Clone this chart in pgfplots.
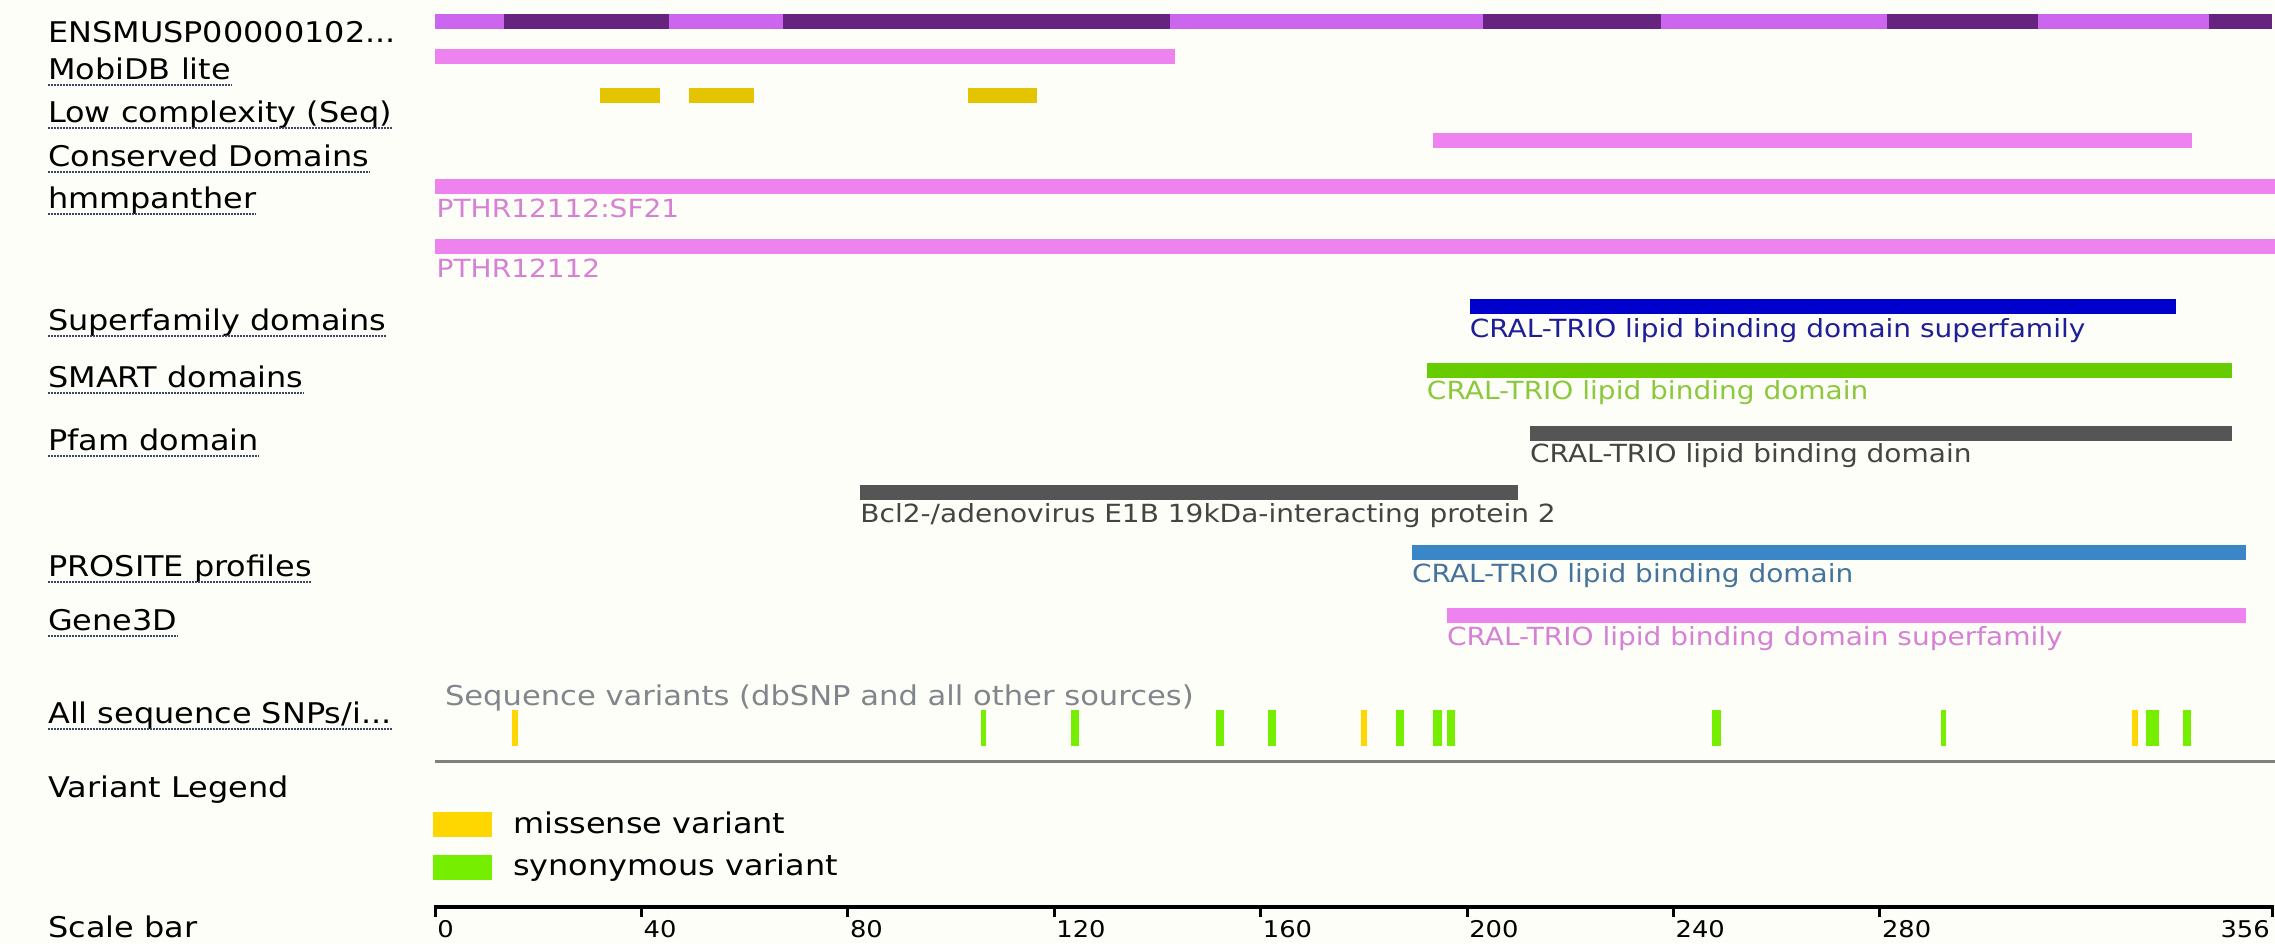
\documentclass[border=0pt]{standalone}
\usepackage{pgfplots}
\pgfplotsset{compat=1.18}
\usepackage{fontspec}
\setmainfont{DejaVu Sans}[FakeStretch=1.12]

\definecolor{bg}{RGB}{254,254,248}
\definecolor{exonA}{RGB}{204,102,238}
\definecolor{exonB}{RGB}{102,36,128}
\definecolor{vio}{RGB}{238,130,238}
\definecolor{vioText}{RGB}{214,128,214}
\definecolor{lowc}{RGB}{228,196,0}
\definecolor{sfam}{RGB}{0,0,204}
\definecolor{sfamText}{RGB}{30,30,150}
\definecolor{smart}{RGB}{102,204,0}
\definecolor{smartText}{RGB}{140,200,60}
\definecolor{pfam}{RGB}{85,85,85}
\definecolor{pfamText}{RGB}{68,68,68}
\definecolor{prosite}{RGB}{58,135,200}
\definecolor{prositeText}{RGB}{70,115,155}
\definecolor{missense}{RGB}{255,215,0}
\definecolor{synon}{RGB}{118,238,0}
\definecolor{seqText}{RGB}{128,134,140}
\definecolor{uline}{RGB}{60,70,100}
\definecolor{rule}{RGB}{128,128,128}

\newcommand{\lab}{\fontsize{28.5}{30}\selectfont}
\newcommand{\dom}{\fontsize{25}{27}\selectfont}
\newcommand{\tickfont}{\fontsize{23}{25}\selectfont}

% track label with dotted underline, y = baseline in pixels
\newcommand{\ulabel}[2]{%
  \node[anchor=base west, inner sep=0pt, font=\lab] (tmp) at (axis cs:-75,#1) {#2};
  \draw[uline, line width=1.6pt, dash pattern=on 1.6pt off 1.4pt]
    ([yshift=-6pt]tmp.base west) -- ([yshift=-6pt]tmp.base east);}
\newcommand{\dlabel}[4]{%
  \node[anchor=base west, inner sep=0pt, font=\dom, text=#3] at (axis cs:#1,#2) {#4};}

\begin{document}
\begin{tikzpicture}
\fill[bg] (0,0) rectangle (2275pt,943pt);
\begin{axis}[
  at={(0,0)}, anchor=south west,
  scale only axis, width=2275pt, height=943pt,
  xmin=-84.30, xmax=356.58, ymin=0, ymax=943, y dir=reverse,
  hide axis, clip=false,
  trk/.style={line width=15pt, unbounded coords=jump},
]
% protein exons
\addplot[exonA, trk] coordinates {(0,21.5) (13.4,21.5) (nan,21.5) (45.3,21.5) (67.4,21.5) (nan,21.5)
  (142.4,21.5) (203.1,21.5) (nan,21.5) (237.6,21.5) (281.4,21.5) (nan,21.5) (310.7,21.5) (343.8,21.5)};
\addplot[exonB, trk] coordinates {(13.4,21.5) (45.3,21.5) (nan,21.5) (67.4,21.5) (142.4,21.5) (nan,21.5)
  (203.1,21.5) (237.6,21.5) (nan,21.5) (281.4,21.5) (310.7,21.5) (nan,21.5) (343.8,21.5) (356,21.5)};
% MobiDB lite
\addplot[vio, trk] coordinates {(0,56) (143.5,56)};
% low complexity
\addplot[lowc, trk] coordinates {(32,95.5) (43.6,95.5) (nan,95.5) (49.2,95.5) (61.8,95.5) (nan,95.5) (103.3,95.5) (116.7,95.5)};
% conserved domains
\addplot[vio, trk] coordinates {(193.4,140.5) (340.5,140.5)};
% hmmpanther
\addplot[vio, trk] coordinates {(0,186.5) (356.5,186.5)};
\addplot[vio, trk] coordinates {(0,246.5) (356.5,246.5)};
% superfamily
\addplot[sfam, trk] coordinates {(200.5,306.5) (337.3,306.5)};
% SMART
\addplot[smart, trk] coordinates {(192.2,370) (348.2,370)};
% Pfam
\addplot[pfam, trk] coordinates {(212.2,433.5) (348.2,433.5)};
\addplot[pfam, trk] coordinates {(82.4,492.5) (209.9,492.5)};
% PROSITE
\addplot[prosite, trk] coordinates {(189.3,552.5) (351.0,552.5)};
% Gene3D
\addplot[vio, trk] coordinates {(196.1,615.5) (351.0,615.5)};

% variants
\addplot[only marks, mark=|, mark size=18, mark options={missense, line width=6pt}]
  coordinates {(15.6,728) (180.1,728) (329.4,728)};
\addplot[only marks, mark=|, mark size=18, mark options={synon, line width=5pt}]
  coordinates {(106.2,728) (292.3,728)};
\addplot[only marks, mark=|, mark size=18, mark options={synon, line width=8.5pt}]
  coordinates {(124.0,728) (152.1,728) (162.2,728) (187.0,728) (194.3,728) (196.9,728) (248.3,728) (339.5,728)};
\addplot[only marks, mark=|, mark size=18, mark options={synon, line width=13pt}]
  coordinates {(332.8,728)};
\addplot[rule, line width=3pt] coordinates {(0,761) (356.5,761)};

% legend swatches
\addplot[missense, line width=25pt] coordinates {(-0.4,824.5) (11.0,824.5)};
\addplot[synon, line width=25pt] coordinates {(-0.4,867.5) (11.0,867.5)};

% scale bar
\addplot[black, line width=3.5pt] coordinates {(0,907) (356,907)};
\addplot[only marks, mark=|, mark size=6, mark options={black, line width=3pt}]
  coordinates {(0,911) (40,911) (80,911) (120,911) (160,911) (200,911) (240,911) (280,911) (356,911)};

% left labels
\node[anchor=base west, inner sep=0pt, font=\lab] at (axis cs:-75,42) {ENSMUSP00000102...};
\ulabel{79}{MobiDB lite}
\ulabel{122}{Low complexity (Seq)}
\ulabel{166}{Conserved Domains}
\ulabel{208}{hmmpanther}
\ulabel{330}{Superfamily domains}
\ulabel{387}{SMART domains}
\ulabel{450}{Pfam domain}
\ulabel{576}{PROSITE profiles}
\ulabel{630}{Gene3D}
\ulabel{723}{All sequence SNPs/i...}
\node[anchor=base west, inner sep=0pt, font=\lab] at (axis cs:-75,797) {Variant Legend};
\node[anchor=base west, inner sep=0pt, font=\lab] at (axis cs:-75,937) {Scale bar};

% feature labels
\dlabel{0.3}{217}{vioText}{PTHR12112:SF21}
\dlabel{0.3}{277}{vioText}{PTHR12112}
\dlabel{200.5}{337}{sfamText}{CRAL-TRIO lipid binding domain superfamily}
\dlabel{192.2}{399}{smartText}{CRAL-TRIO lipid binding domain}
\dlabel{212.2}{462}{pfamText}{CRAL-TRIO lipid binding domain}
\dlabel{82.4}{522}{pfamText}{Bcl2-/adenovirus E1B 19kDa-interacting protein 2}
\dlabel{189.3}{582}{prositeText}{CRAL-TRIO lipid binding domain}
\dlabel{196.1}{645}{vioText}{CRAL-TRIO lipid binding domain superfamily}

\node[anchor=base west, inner sep=0pt, font=\fontsize{27.3}{29}\selectfont, text=seqText]
  at (axis cs:1.9,705) {Sequence variants (dbSNP and all other sources)};
\node[anchor=base west, inner sep=0pt, font=\lab] at (axis cs:15.1,833) {missense variant};
\node[anchor=base west, inner sep=0pt, font=\lab] at (axis cs:15.1,875) {synonymous variant};

% scale numbers
\pgfplotsinvokeforeach{0,40,80,120,160,200,240,280}{
  \node[anchor=base west, inner sep=0pt, font=\tickfont] at (axis cs:#1+0.4,937) {#1};
}
\node[anchor=base east, inner sep=0pt, font=\tickfont] at (axis cs:355.6,937) {356};
\end{axis}
\pgfresetboundingbox
\useasboundingbox (0,0) rectangle (2275pt,943pt);
\end{tikzpicture}
\end{document}
